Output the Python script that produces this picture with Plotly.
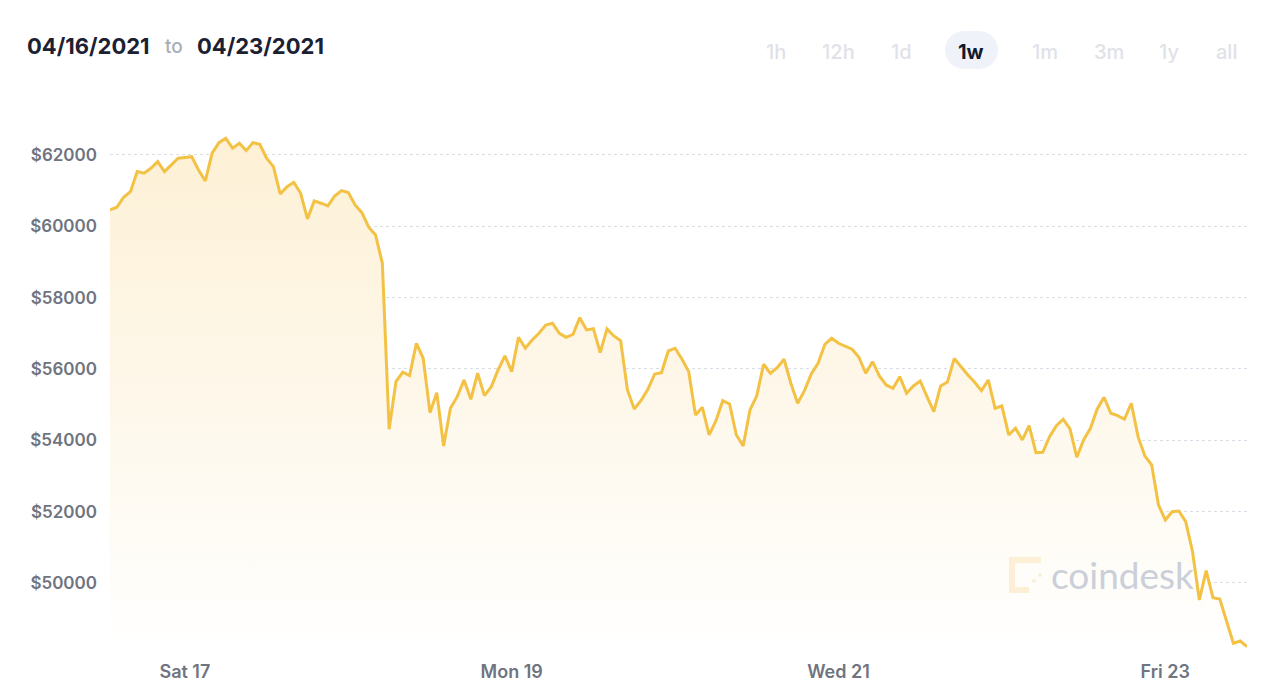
import pandas as pd
import plotly.graph_objects as go

# ---- data (hourly BTC price) ----
start_time = "2021-04-16 13:00"
prices = [
    60458, 60534, 60814, 60971, 61532, 61487, 61627, 61812, 61532, 61720,
    61907, 61930, 61952, 61579, 61271, 62048, 62345, 62468, 62188, 62328,
    62121, 62345, 62300, 61907, 61672, 60906, 61111, 61234, 60926, 60205,
    60710, 60646, 60570, 60850, 60999, 60943, 60598, 60382, 59973, 59757,
    58963, 54309, 55643, 55907, 55812, 56720, 56299, 54774, 55335, 53840,
    54897, 55223, 55691, 55150, 55879, 55251, 55503, 55971, 56364, 55924,
    56888, 56580, 56813, 57000, 57233, 57281, 57000, 56888, 56972, 57438,
    57093, 57129, 56456, 57121, 56925, 56793, 55411, 54878, 55116, 55430,
    55859, 55896, 56504, 56580, 56280, 55924, 54710, 54926, 54149, 54550,
    55111, 55018, 54149, 53840, 54850, 55251, 56131, 55879, 56036, 56271,
    55598, 55038, 55391, 55859, 56159, 56692, 56860, 56720, 56644, 56552,
    56327, 55879, 56204, 55803, 55551, 55458, 55783, 55318, 55523, 55663,
    55223, 54802, 55523, 55635, 56291, 56047, 55831, 55626, 55391, 55691,
    54897, 54962, 54149, 54337, 54009, 54410, 53652, 53663, 54101, 54410,
    54589, 54317, 53524, 54009, 54337, 54878, 55206, 54757, 54690, 54589,
    55038, 54101, 53560, 53308, 52186, 51765, 51998, 52018, 51718, 50876,
    49522, 50344, 49587, 49550, 48961, 48308, 48373, 48213,
]
times = pd.date_range(start_time, periods=len(prices), freq="h")

tick_dates = ["2021-04-17", "2021-04-19", "2021-04-21", "2021-04-23"]
tick_labels = ["Sat 17", "Mon 19", "Wed 21", "Fri 23"]
y_ticks = [50000, 52000, 54000, 56000, 58000, 60000, 62000]
y_tick_labels = ["$" + str(v) for v in y_ticks]
range_buttons = ["1h", "12h", "1d", "1w", "1m", "3m", "1y", "all"]
active_button = "1w"
date_from, date_to = "04/16/2021", "04/23/2021"

# ---- layout geometry (pixels) ----
W, H = 1280, 699
L, R, T, B = 110, 33, 100, 49
PW, PH = W - L - R, H - T - B


def px(xp):
    return (xp - L) / PW


def py(yp):
    return (H - B - yp) / PH


fig = go.Figure()
fig.add_trace(go.Scatter(
    x=times, y=prices, mode="lines",
    line=dict(color="#f3c244", width=3),
    fill="tozeroy",
    fillgradient=dict(type="vertical", start=48120, stop=62500,
                      colorscale=[[0, "rgba(255,255,255,1)"], [1, "rgba(253,240,213,1)"]]),
    hoverinfo="skip", showlegend=False,
))

annotations = []
shapes = []
# header date range
annotations.append(dict(text=date_from, x=px(25), y=py(46), xref="paper", yref="paper",
                        xanchor="left", yanchor="middle", showarrow=False,
                        font=dict(family="Inter", size=22, color="#1b2133", weight=700)))
annotations.append(dict(text="to", x=px(174), y=py(47), xref="paper", yref="paper",
                        xanchor="center", yanchor="middle", showarrow=False,
                        font=dict(family="Inter", size=19, color="#a9aeb6", weight=500)))
annotations.append(dict(text=date_to, x=px(195), y=py(46), xref="paper", yref="paper",
                        xanchor="left", yanchor="middle", showarrow=False,
                        font=dict(family="Inter", size=22, color="#1b2133", weight=700)))

# range buttons
btn_x = [776, 838, 901, 971, 1045, 1109, 1169, 1226]
for label, bx in zip(range_buttons, btn_x):
    active = label == active_button
    if active:
        x0, x1, y0, y1, r = 945, 998, 31, 69, 19
        k = 0.55 * r
        path = (f"M {px(x0 + r)},{py(y0)} L {px(x1 - r)},{py(y0)} "
                f"C {px(x1 - r + k)},{py(y0)} {px(x1)},{py(y0 + r - k)} {px(x1)},{py(y0 + r)} "
                f"C {px(x1)},{py(y1 - r + k)} {px(x1 - r + k)},{py(y1)} {px(x1 - r)},{py(y1)} "
                f"L {px(x0 + r)},{py(y1)} "
                f"C {px(x0 + r - k)},{py(y1)} {px(x0)},{py(y1 - r + k)} {px(x0)},{py(y1 - r)} "
                f"C {px(x0)},{py(y0 + r - k)} {px(x0 + r - k)},{py(y0)} {px(x0 + r)},{py(y0)} Z")
        shapes.append(dict(type="path", path=path, xref="paper", yref="paper",
                           fillcolor="#eff3f9", line=dict(width=0), layer="below"))
    annotations.append(dict(text=label, x=px(bx), y=py(52), xref="paper", yref="paper",
                            xanchor="center", yanchor="middle", showarrow=False,
                            font=dict(family="Inter", size=20,
                                      color="#141a2e" if active else "#dfe2e8",
                                      weight=700 if active else 500)))

# coindesk watermark
logo = "#fcefd6"
shapes.append(dict(type="path", xref="paper", yref="paper", layer="above",
                   path=f"M {px(1041)},{py(560)} L {px(1012)},{py(560)} L {px(1012)},{py(590)} L {px(1029)},{py(590)}",
                   line=dict(color=logo, width=6)))
for cx, cy in [(1040, 575), (1034, 581)]:
    shapes.append(dict(type="circle", xref="paper", yref="paper", layer="above",
                       x0=px(cx - 2), x1=px(cx + 2), y0=py(cy + 2), y1=py(cy - 2),
                       fillcolor=logo, line=dict(width=0)))
annotations.append(dict(text="coindesk", x=px(1049), y=py(574), xref="paper", yref="paper",
                        xanchor="left", yanchor="middle", showarrow=False,
                        font=dict(family="Lato", size=37, color="#cacfd9")))

fig.update_layout(
    width=W, height=H,
    margin=dict(l=L, r=R, t=T, b=B),
    paper_bgcolor="white", plot_bgcolor="white",
    showlegend=False,
    annotations=annotations, shapes=shapes,
    xaxis=dict(range=[times[0], times[-1]], showgrid=False, zeroline=False, showline=False,
               tickmode="array", tickvals=tick_dates, ticktext=tick_labels,
               ticks="", ticklabelstandoff=9,
               tickfont=dict(family="Inter", size=18, color="#6f7480", weight=600)),
    yaxis=dict(range=[48120, 63540], showgrid=True, gridcolor="#d9dde6", griddash="dot",
               gridwidth=1, zeroline=False, showline=False,
               tickmode="array", tickvals=y_ticks, ticktext=y_tick_labels,
               ticks="", ticklabelstandoff=12,
               tickfont=dict(family="Inter", size=17, color="#6f7480", weight=600)),
)

fig.write_html("out.html", config={"displayModeBar": False},
               post_script="document.body.style.margin='0';document.body.style.overflow='hidden';")
